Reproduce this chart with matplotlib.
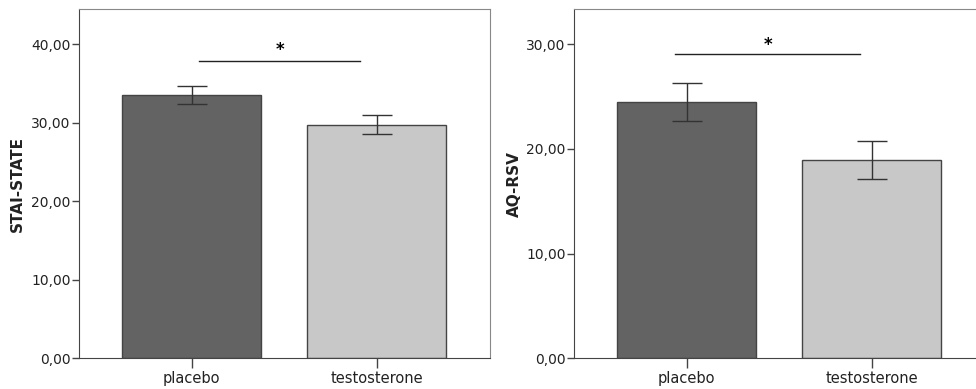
import numpy as np
import matplotlib.pyplot as plt

groups = ['placebo', 'testosterone']

stai_mean = [33.55, 29.75]
stai_lo = [32.35, 28.55]
stai_hi = [34.7, 30.95]

aq_mean = [24.5, 18.95]
aq_lo = [22.65, 17.1]
aq_hi = [26.35, 20.75]

bar_colors = ['#636363', '#c8c8c8']

fig = plt.figure(figsize=(9.76, 3.89), dpi=100)


def panel(rect, mean, lo, hi, ymax, yticks, ylabel, sig_y, sig_x, star_y, label_x):
    ax = fig.add_axes(rect)
    x = np.arange(len(groups))
    mean = np.array(mean)
    err = [mean - np.array(lo), np.array(hi) - mean]
    ax.bar(x, mean, width=0.75, color=bar_colors, edgecolor='#444444', linewidth=1.0, zorder=2)
    ax.errorbar(x, mean, yerr=err, fmt='none', ecolor='#333333', elinewidth=1.0,
                capsize=11, capthick=1.0, zorder=3)
    ax.set_xlim(-0.609, 1.612)
    ax.set_ylim(0, ymax)
    ax.set_yticks(yticks)
    ax.set_yticklabels([f'{v:.2f}'.replace('.', ',') for v in yticks], fontsize=10, color='#222222')
    ax.set_xticks(x)
    ax.set_xticklabels(groups, fontsize=10.5, color='#222222')
    ax.tick_params(axis='y', length=5, width=1, color='#444444', pad=1)
    ax.tick_params(axis='x', length=7, width=1, color='#444444', pad=2)
    for s in ['left', 'bottom']:
        ax.spines[s].set_color('#444444')
    for s in ['top', 'right']:
        ax.spines[s].set_color('#888888')
    ax.set_ylabel(ylabel, fontsize=11, fontweight='bold', color='#222222')
    ax.yaxis.set_label_coords(label_x, 0.5)
    # significance bar
    ax.plot(sig_x, [sig_y, sig_y], color='#222222', lw=1.0)
    ax.text(np.mean(sig_x), star_y, '*', ha='center', va='center', fontsize=12, fontweight='bold')
    return ax


panel([0.0809, 0.0789, 0.4211, 0.8967], stai_mean, stai_lo, stai_hi, 44.4,
      [0, 10, 20, 30, 40], 'STAI-STATE', 37.87, [0.039, 0.911], 39.3, -0.131)
panel([0.588, 0.0789, 0.4215, 0.8967], aq_mean, aq_lo, aq_hi, 33.33,
      [0, 10, 20, 30], 'AQ-RSV', 29.03, [-0.062, 0.935], 29.9, -0.127)

fig.savefig('out.png', dpi=100)
